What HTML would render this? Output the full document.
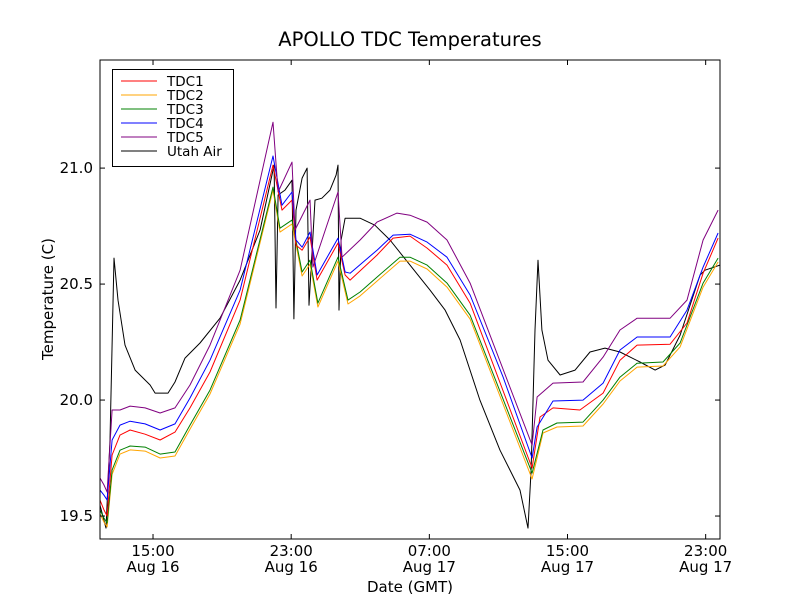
<!DOCTYPE html>
<html><head><meta charset="utf-8"><title>APOLLO TDC Temperatures</title>
<style>
html,body{margin:0;padding:0;background:#fff;}
svg{display:block;font-family:"DejaVu Sans","Liberation Sans",sans-serif;}
</style></head>
<body>
<svg id="chart" width="800" height="600" viewBox="0 0 800 600" xmlns="http://www.w3.org/2000/svg">
<rect x="0" y="0" width="800" height="600" fill="#fff"/>
<text x="410" y="46" text-anchor="middle" font-size="19.5" fill="#000">APOLLO TDC Temperatures</text>
<text x="410" y="592" text-anchor="middle" font-size="15" fill="#000">Date (GMT)</text>
<text x="0" y="0" transform="translate(53,299) rotate(-90)" text-anchor="middle" font-size="15" fill="#000">Temperature (C)</text>
<g id="series"></g>
<g id="axes"></g>
<g id="legend"></g>
</svg>
<script>
// hours since Aug 16 00:00 GMT, temperatures in C
const xTickHours = [15, 23, 31, 39, 47];
const xTickTimes = ["15:00", "23:00", "07:00", "15:00", "23:00"];
const xTickDates = ["Aug 16", "Aug 16", "Aug 17", "Aug 17", "Aug 17"];
const yTicks = [19.5, 20.0, 20.5, 21.0];
const yTickLabels = ["19.5", "20.0", "20.5", "21.0"];
const seriesNames = ["TDC1", "TDC2", "TDC3", "TDC4", "TDC5", "Utah Air"];
const seriesColors = ["#ff0000", "#ffa500", "#008000", "#0000ff", "#800080", "#000000"];

const tdc1Hours = [11.93,12.16,12.34,12.63,13.09,13.67,14.54,15.41,16.27,17.14,18.30,20.04,21.95,22.47,23.05,23.28,23.63,24.09,24.50,25.71,26.12,26.41,27.97,28.90,29.88,30.87,32.02,33.36,36.95,37.41,38.16,39.72,41.06,42.04,43.03,44.94,45.92,46.85,47.72];
const tdc1Temps = [19.569,19.526,19.500,19.763,19.849,19.871,19.853,19.828,19.862,19.966,20.121,20.431,21.013,20.819,20.862,20.668,20.646,20.703,20.517,20.677,20.539,20.517,20.625,20.698,20.707,20.655,20.582,20.418,19.707,19.927,19.966,19.957,20.030,20.172,20.237,20.241,20.332,20.547,20.698];

const tdc3Hours = [11.93,12.16,12.34,12.63,13.09,13.67,14.54,15.41,16.27,17.14,18.30,20.04,21.95,22.35,23.05,23.63,24.09,24.55,25.71,26.29,26.99,27.97,29.30,29.88,30.87,32.02,33.36,36.95,37.58,38.39,39.90,41.06,42.04,43.03,44.53,45.52,46.85,47.72];
const tdc3Temps = [19.526,19.491,19.470,19.698,19.784,19.802,19.797,19.767,19.776,19.892,20.043,20.345,20.918,20.741,20.776,20.552,20.603,20.418,20.616,20.431,20.466,20.530,20.616,20.616,20.582,20.504,20.366,19.685,19.871,19.901,19.905,20.000,20.099,20.159,20.164,20.246,20.504,20.612];

const tdc2Hours = [11.93,12.16,12.34,12.63,13.09,13.67,14.54,15.41,16.27,17.14,18.30,20.04,21.95,22.35,23.05,23.63,24.09,24.55,25.71,26.29,26.99,27.97,29.30,29.88,30.87,32.02,33.36,36.95,37.58,38.39,39.90,41.06,42.04,43.03,44.53,45.52,46.85,47.72];
const tdc2Temps = [19.509,19.474,19.453,19.680,19.767,19.785,19.780,19.750,19.759,19.875,20.026,20.328,20.905,20.724,20.759,20.535,20.586,20.401,20.599,20.414,20.449,20.513,20.599,20.599,20.565,20.487,20.349,19.660,19.858,19.884,19.888,19.983,20.082,20.142,20.147,20.229,20.487,20.595];

const tdc4Hours = [11.93,12.16,12.34,12.63,13.09,13.67,14.54,15.41,16.27,17.14,18.30,20.04,21.95,22.47,23.05,23.28,23.63,24.09,24.50,25.71,26.12,26.41,27.97,28.90,29.88,30.87,32.02,33.36,35.27,36.95,37.24,38.16,39.90,41.06,42.04,43.03,44.94,45.92,46.85,47.72];
const tdc4Temps = [19.612,19.590,19.569,19.828,19.892,19.909,19.897,19.871,19.897,20.009,20.172,20.474,21.052,20.840,20.897,20.690,20.659,20.724,20.539,20.698,20.552,20.547,20.646,20.711,20.715,20.681,20.616,20.453,20.099,19.750,19.884,19.996,20.000,20.073,20.216,20.272,20.272,20.388,20.573,20.720];

const tdc5Hours = [11.93,12.16,12.34,12.63,13.09,13.67,14.54,15.41,16.27,17.14,18.30,20.04,21.95,22.24,23.05,23.22,24.09,24.26,25.71,25.94,26.99,27.97,29.13,29.88,30.87,32.02,33.36,36.95,37.24,38.16,39.90,41.06,42.04,43.03,44.94,45.92,46.85,47.72];
const tdc5Temps = [19.664,19.634,19.603,19.957,19.957,19.974,19.966,19.944,19.966,20.065,20.237,20.560,21.198,20.897,21.026,20.733,20.862,20.573,20.897,20.616,20.690,20.767,20.806,20.797,20.767,20.690,20.504,19.806,20.013,20.073,20.078,20.185,20.302,20.353,20.353,20.431,20.690,20.819];

const airHours = [11.93,12.28,12.51,12.74,12.97,13.38,13.96,14.83,15.12,15.87,16.27,16.85,17.72,18.88,20.04,21.20,22.01,22.12,22.24,22.64,23.05,23.16,23.28,23.63,23.92,24.03,24.38,24.78,25.25,25.60,25.71,25.77,25.89,26.12,26.99,27.85,28.72,29.88,31.04,31.91,32.78,33.93,35.09,36.25,36.71,36.89,37.12,37.29,37.52,37.87,38.57,39.44,40.30,41.17,42.04,43.20,44.07,44.65,45.52,46.68,46.96,47.83];
const airTemps = [19.547,19.448,19.828,20.612,20.431,20.237,20.129,20.065,20.030,20.030,20.078,20.181,20.246,20.353,20.517,20.733,21.013,20.397,20.884,20.905,20.948,20.350,20.819,20.957,21.000,20.409,20.862,20.870,20.905,20.970,21.013,20.388,20.690,20.784,20.784,20.754,20.690,20.582,20.474,20.388,20.259,20.000,19.784,19.612,19.448,19.698,20.302,20.603,20.302,20.172,20.108,20.129,20.207,20.224,20.207,20.164,20.129,20.151,20.280,20.539,20.560,20.582];

const seriesHours = [tdc1Hours, tdc2Hours, tdc3Hours, tdc4Hours, tdc5Hours, airHours];
const seriesTemps = [tdc1Temps, tdc2Temps, tdc3Temps, tdc4Temps, tdc5Temps, airTemps];

const NS = "http://www.w3.org/2000/svg";
const L = 100, R = 720, T = 60, B = 539;
const xMin = 11.93, xMax = 47.83, yMin = 19.401, yMax = 21.466;
function xs(h){ return L + (h - xMin) / (xMax - xMin) * (R - L); }
function ys(v){ return B - (v - yMin) / (yMax - yMin) * (B - T); }
function mk(tag, attrs){ const e = document.createElementNS(NS, tag); for (const k in attrs) e.setAttribute(k, attrs[k]); return e; }

const sg = document.getElementById("series");
const defs = mk("defs", {});
const cp = mk("clipPath", {id: "plotclip"});
cp.appendChild(mk("rect", {x: L, y: T, width: R - L, height: B - T}));
defs.appendChild(cp);
document.getElementById("chart").insertBefore(defs, sg);
sg.setAttribute("clip-path", "url(#plotclip)");
const order = [5, 1, 2, 0, 3, 4];
order.forEach(function(i){
  const hrs = seriesHours[i], tmp = seriesTemps[i];
  let d = "";
  for (let j = 0; j < hrs.length; j++) d += (j ? "L" : "M") + xs(hrs[j]).toFixed(1) + "," + ys(tmp[j]).toFixed(1);
  const p = mk("path", {d: d, fill: "none", stroke: seriesColors[i], "stroke-width": 1, "stroke-linejoin": "round"});
  
  
  sg.appendChild(p);
});

const ag = document.getElementById("axes");
const frame = mk("rect", {x: L, y: T, width: R - L, height: B - T, fill: "none", stroke: "#000", "stroke-width": 1});


ag.appendChild(frame);
yTicks.forEach(function(v, i){
  const y = ys(v);
  const t1 = mk("line", {x1: L, x2: L + 5, y1: y, y2: y, stroke: "#000"});
  
  
  ag.appendChild(t1);
  const t2 = mk("line", {x1: R - 5, x2: R, y1: y, y2: y, stroke: "#000"});
  
  
  ag.appendChild(t2);
  const lb = mk("text", {x: L - 7, y: y + 5, "text-anchor": "end", "font-size": 15, fill: "#000"});
  lb.textContent = yTickLabels[i];
  
  
  ag.appendChild(lb);
});
xTickHours.forEach(function(h, i){
  const x = xs(h);
  const t1 = mk("line", {x1: x, x2: x, y1: B, y2: B - 5, stroke: "#000"});
  
  
  ag.appendChild(t1);
  const t2 = mk("line", {x1: x, x2: x, y1: T, y2: T + 5, stroke: "#000"});
  
  
  ag.appendChild(t2);
  const lb = mk("text", {x: x, y: 556, "text-anchor": "middle", "font-size": 15, fill: "#000"});
  lb.textContent = xTickTimes[i];
  
  
  ag.appendChild(lb);
  const lb2 = mk("text", {x: x, y: 572, "text-anchor": "middle", "font-size": 15, fill: "#000"});
  lb2.textContent = xTickDates[i];
  
  
  ag.appendChild(lb2);
});

const lg = document.getElementById("legend");
const box = mk("rect", {x: 112.5, y: 69.5, width: 121, height: 97, fill: "#fff", stroke: "#000", "stroke-width": 1});


lg.appendChild(box);
seriesNames.forEach(function(n, i){
  const y = 81 + i * 14;
  const g = mk("g", {});
  
  
  g.appendChild(mk("line", {x1: 121, x2: 157, y1: y, y2: y, stroke: seriesColors[i], "stroke-width": 1}));
  const t = mk("text", {x: 167, y: y + 5, "font-size": 13.5, fill: "#000"});
  t.textContent = n;
  g.appendChild(t);
  lg.appendChild(g);
});
</script>
</body></html>
